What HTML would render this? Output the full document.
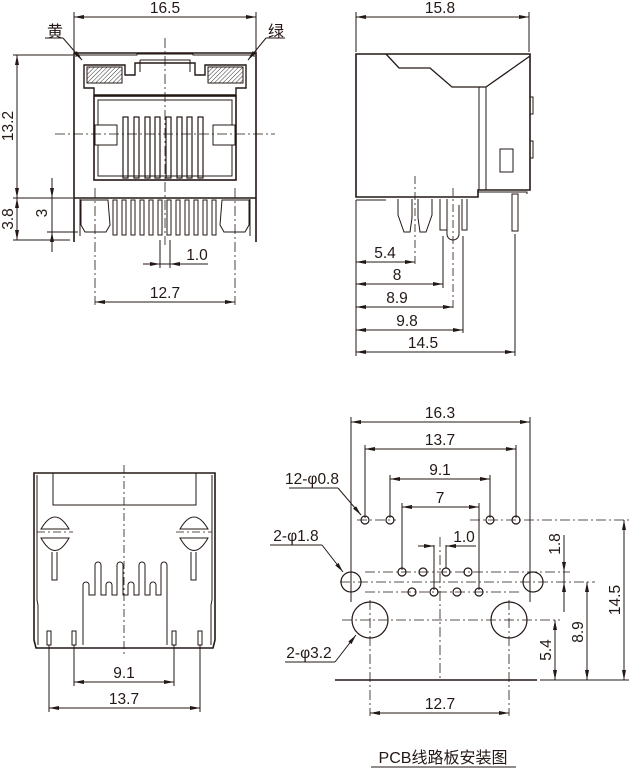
<!DOCTYPE html>
<html><head><meta charset="utf-8"><style>
html,body{margin:0;padding:0;background:#fff;}
svg{display:block;}
text{font-family:"Liberation Sans","Noto Sans CJK SC",sans-serif;fill:#231815;}
</style></head><body>
<svg width="629" height="769" viewBox="0 0 629 769" xmlns="http://www.w3.org/2000/svg">
<defs>
<pattern id="h" width="3" height="3" patternUnits="userSpaceOnUse" patternTransform="rotate(45)"><line x1="0" y1="0" x2="0" y2="3" stroke="#333" stroke-width="1"/></pattern>
<marker id="a" markerWidth="10" markerHeight="6" refX="10" refY="3" orient="auto-start-reverse" markerUnits="userSpaceOnUse"><path d="M0,1 L10,3 L0,5z" fill="#231815"/></marker>
</defs>
<g stroke="#231815" fill="none" stroke-width="1">
<!-- ===== Front view ===== -->
<line x1="74" y1="12" x2="74" y2="55"/><line x1="256" y1="12" x2="256" y2="55"/>
<line x1="74" y1="17" x2="256" y2="17" marker-start="url(#a)" marker-end="url(#a)"/>
<path d="M74,53 H256 V242 M74,53 V242" stroke-width="1.6"/>
<path d="M76,55 H137 V54 H193 V55 H254 L254,57 M76,55 L76,57"/>
<path d="M84,65 H125 V75 H135 V63 H195 V75 H205 V65 H246 V88 H236 V95 H94 V88 H84 Z" stroke-width="1.4"/>
<path d="M140,60 H190 V72 M140,60 V72"/>
<rect x="87" y="67" width="35" height="16" fill="url(#h)"/>
<rect x="208" y="67" width="35" height="16" fill="url(#h)"/>
<rect x="94" y="96" width="142" height="84" stroke-width="1.6"/>
<rect x="98" y="100" width="134" height="76"/>
<rect x="95" y="125" width="22" height="20" fill="#fff"/><rect x="213" y="125" width="22" height="20" fill="#fff"/>
<g stroke-width="1.2">
<rect x="123" y="117" width="5" height="61"/><rect x="134" y="117" width="5" height="61"/><rect x="145" y="117" width="5" height="61"/><rect x="155" y="117" width="5" height="61"/><rect x="166" y="117" width="5" height="61"/><rect x="177" y="117" width="5" height="61"/><rect x="187" y="117" width="5" height="61"/><rect x="198" y="117" width="5" height="61"/>
</g>
<line x1="74" y1="198" x2="256" y2="198" stroke-width="1.4"/>
<path d="M80,199 V236 M250,199 V236"/>
<path d="M81,200 H108 L110,225 L106,232 H85 L81,225 Z"/>
<path d="M222,200 H249 L249,225 L245,232 H224 L220,225 Z"/>
<g>
<rect x="113" y="200" width="4" height="35"/><rect x="122" y="200" width="4" height="35"/><rect x="131" y="200" width="4" height="35"/><rect x="140" y="200" width="4" height="35"/><rect x="149" y="200" width="4" height="35"/><rect x="158" y="200" width="4" height="35"/><rect x="167" y="200" width="4" height="35"/><rect x="176" y="200" width="4" height="35"/><rect x="185" y="200" width="4" height="35"/><rect x="194" y="200" width="4" height="35"/><rect x="203" y="200" width="4" height="35"/><rect x="212" y="200" width="4" height="35"/>
</g>
<g stroke-dasharray="10,3,2,3" stroke-width="0.8">
<line x1="165" y1="38" x2="165" y2="245"/><line x1="55" y1="134" x2="275" y2="134"/>
<line x1="95" y1="188" x2="95" y2="305"/><line x1="235" y1="188" x2="235" y2="305"/>
</g>
<line x1="13" y1="55" x2="73" y2="55"/><line x1="13" y1="198" x2="73" y2="198"/><line x1="13" y1="240" x2="70" y2="240"/>
<line x1="47" y1="232" x2="78" y2="232"/>
<line x1="17" y1="55" x2="17" y2="198" marker-start="url(#a)" marker-end="url(#a)"/>
<line x1="17" y1="198" x2="17" y2="240" marker-start="url(#a)" marker-end="url(#a)"/>
<line x1="52" y1="178" x2="52" y2="198" marker-end="url(#a)"/><line x1="52" y1="252" x2="52" y2="232" marker-end="url(#a)"/><line x1="52" y1="198" x2="52" y2="232"/>
<line x1="160" y1="240" x2="160" y2="268"/><line x1="170" y1="240" x2="170" y2="268"/>
<line x1="143" y1="264" x2="160" y2="264" marker-end="url(#a)"/><line x1="187" y1="264" x2="170" y2="264" marker-end="url(#a)"/><line x1="160" y1="264" x2="208" y2="264"/>
<line x1="95" y1="302" x2="235" y2="302" marker-start="url(#a)" marker-end="url(#a)"/>
<line x1="45" y1="38" x2="63" y2="38"/><line x1="63" y1="38" x2="82" y2="60" marker-end="url(#a)"/>
<line x1="285" y1="38" x2="266" y2="38"/><line x1="266" y1="38" x2="248" y2="60" marker-end="url(#a)"/>

<!-- ===== Side view ===== -->
<line x1="356" y1="12" x2="356" y2="52"/><line x1="529" y1="12" x2="529" y2="52"/>
<line x1="356" y1="17" x2="529" y2="17" marker-start="url(#a)" marker-end="url(#a)"/>
<path d="M356,54 H530 V190 H478 V197 H356 Z" stroke-width="1.6"/>
<path d="M386,54 L399,68 H430 L452,87 H486 L530,56" stroke-width="1.3"/>
<path d="M479,87 V190 M486,87 V190"/>
<path d="M530,97 H533 V114 H530 M530,141 H533 V158 H530"/>
<rect x="500" y="149" width="13" height="23"/>
<path d="M356,200 H386 M478,192 H527 V194"/>
<path d="M398,199 V215 L404,232 H410 L412,218 V199 M418,199 V218 L420,232 H426 L432,215 V199"/>
<path d="M440,199 V230 H447 V199 M462,199 V230 H467 V199"/>
<path d="M447,205 V234 A6,6 0 0 0 459,234 V205"/>
<rect x="512" y="194" width="6" height="37"/>
<g stroke-dasharray="8,3,2,3" stroke-width="0.8"><line x1="415" y1="176" x2="415" y2="265"/><line x1="453" y1="188" x2="453" y2="310"/></g>
<line x1="356" y1="200" x2="356" y2="356"/>
<line x1="443" y1="236" x2="443" y2="288"/><line x1="463" y1="236" x2="463" y2="333"/><line x1="515" y1="234" x2="515" y2="356"/>
<line x1="356" y1="262" x2="415" y2="262" marker-start="url(#a)" marker-end="url(#a)"/>
<line x1="356" y1="284" x2="443" y2="284" marker-start="url(#a)" marker-end="url(#a)"/>
<line x1="356" y1="307" x2="453" y2="307" marker-start="url(#a)" marker-end="url(#a)"/>
<line x1="356" y1="330" x2="463" y2="330" marker-start="url(#a)" marker-end="url(#a)"/>
<line x1="356" y1="352" x2="515" y2="352" marker-start="url(#a)" marker-end="url(#a)"/>

<!-- ===== Bottom-left view ===== -->
<path d="M34,473 H215 V640 L213,648 H36 L34,640 Z" stroke-width="1.6"/>
<path d="M37,475 V600 L38,605 V645 M212,475 V600 L211,605 V645"/>
<rect x="53" y="473" width="143" height="32"/>
<path d="M41,529 Q55,505 69,529 Z M41,538 Q55,563 69,538 Z M52,552 V580 H57 V552" />
<path d="M180,529 Q194,505 208,529 Z M180,538 Q194,563 208,538 Z M191,552 V580 H196 V552"/>
<path d="M83,645 V585 A3,3 0 0 1 89,585 V595 H95 V565 A3,3 0 0 1 101,565 V595 H106 V585 A3,3 0 0 1 112,585 V595 H117 V565 A3,3 0 0 1 123,565 V595 H128 V585 A3,3 0 0 1 134,585 V595 H139 V565 A3,3 0 0 1 145,565 V595 H150 V585 A3,3 0 0 1 156,585 V595 H161 V565 A3,3 0 0 1 167,565 V645"/>
<rect x="47" y="631" width="4" height="14"/><rect x="72" y="631" width="4" height="14"/><rect x="172" y="631" width="4" height="14"/><rect x="198" y="631" width="4" height="14"/>
<g stroke-dasharray="8,3,2,3" stroke-width="0.8"><line x1="124" y1="465" x2="124" y2="655"/><line x1="37" y1="532" x2="73" y2="532"/><line x1="176" y1="532" x2="212" y2="532"/></g>
<line x1="74" y1="645" x2="74" y2="686"/><line x1="174" y1="645" x2="174" y2="686"/>
<line x1="49" y1="645" x2="49" y2="712"/><line x1="200" y1="645" x2="200" y2="712"/>
<line x1="74" y1="682" x2="174" y2="682" marker-start="url(#a)" marker-end="url(#a)"/>
<line x1="49" y1="708" x2="200" y2="708" marker-start="url(#a)" marker-end="url(#a)"/>

<!-- ===== PCB view ===== -->
<line x1="351" y1="417" x2="351" y2="602"/><line x1="530" y1="417" x2="530" y2="602"/>
<line x1="351" y1="422" x2="530" y2="422" marker-start="url(#a)" marker-end="url(#a)"/>
<line x1="365" y1="445" x2="365" y2="518"/><line x1="516" y1="445" x2="516" y2="518"/>
<line x1="365" y1="449" x2="516" y2="449" marker-start="url(#a)" marker-end="url(#a)"/>
<line x1="390" y1="475" x2="390" y2="518"/><line x1="490" y1="475" x2="490" y2="518"/>
<line x1="390" y1="479" x2="490" y2="479" marker-start="url(#a)" marker-end="url(#a)"/>
<line x1="402" y1="503" x2="402" y2="570"/><line x1="479" y1="503" x2="479" y2="590"/>
<line x1="402" y1="507" x2="479" y2="507" marker-start="url(#a)" marker-end="url(#a)"/>
<g stroke-dasharray="10,3,2,3" stroke-width="0.8">
<line x1="357" y1="520" x2="396" y2="520"/><line x1="470" y1="520" x2="630" y2="520"/>
<line x1="365" y1="572" x2="570" y2="572"/><line x1="340" y1="582" x2="595" y2="582"/><line x1="365" y1="592" x2="520" y2="592"/>
<line x1="342" y1="620" x2="560" y2="620"/>
<line x1="440" y1="537" x2="440" y2="680"/>
<line x1="370" y1="600" x2="370" y2="716"/><line x1="509" y1="600" x2="509" y2="716"/>
</g>
<g stroke-width="1.2">
<circle cx="365" cy="520" r="4"/><circle cx="390" cy="520" r="4"/><circle cx="490" cy="520" r="4"/><circle cx="516" cy="520" r="4"/>
<circle cx="402" cy="572" r="4"/><circle cx="423" cy="572" r="4"/><circle cx="446" cy="572" r="4"/><circle cx="468" cy="572" r="4"/>
<circle cx="412" cy="592" r="4"/><circle cx="434" cy="592" r="4"/><circle cx="457" cy="592" r="4"/><circle cx="479" cy="592" r="4"/>
<circle cx="351" cy="582" r="10"/><circle cx="533" cy="582" r="10"/>
<circle cx="370" cy="620" r="18"/><circle cx="509" cy="620" r="18"/>
</g>
<line x1="434" y1="545" x2="434" y2="590"/><line x1="446" y1="545" x2="446" y2="568"/>
<line x1="418" y1="546" x2="434" y2="546" marker-end="url(#a)"/><line x1="462" y1="546" x2="446" y2="546" marker-end="url(#a)"/><line x1="446" y1="546" x2="476" y2="546"/>
<line x1="335" y1="680" x2="537" y2="680" stroke-width="1.4"/>
<line x1="370" y1="713" x2="509" y2="713" marker-start="url(#a)" marker-end="url(#a)"/>
<line x1="540" y1="680" x2="630" y2="680"/>
<line x1="624" y1="520" x2="624" y2="680" marker-start="url(#a)" marker-end="url(#a)"/>
<line x1="587" y1="582" x2="587" y2="680" marker-start="url(#a)" marker-end="url(#a)"/>
<line x1="555" y1="620" x2="555" y2="680" marker-start="url(#a)" marker-end="url(#a)"/>
<line x1="564" y1="535" x2="564" y2="572" marker-end="url(#a)"/><line x1="564" y1="612" x2="564" y2="582" marker-end="url(#a)"/><line x1="564" y1="572" x2="564" y2="582"/>
<line x1="289" y1="488" x2="338" y2="488"/><line x1="338" y1="488" x2="361" y2="515" marker-end="url(#a)"/>
<line x1="270" y1="545" x2="322" y2="545"/><line x1="322" y1="545" x2="343" y2="572" marker-end="url(#a)"/>
<line x1="285" y1="662" x2="335" y2="662"/><line x1="335" y1="662" x2="356" y2="635" marker-end="url(#a)"/>
<line x1="371" y1="767" x2="516" y2="767"/>
</g>
<g font-size="15.5">
<text x="165" y="13" text-anchor="middle">16.5</text>
<text x="55" y="37" text-anchor="middle" font-size="16">黄</text>
<text x="276" y="37" text-anchor="middle" font-size="16">绿</text>
<text transform="translate(13,126) rotate(-90)" text-anchor="middle">13.2</text>
<text transform="translate(13,219) rotate(-90)" text-anchor="middle">3.8</text>
<text transform="translate(47,213) rotate(-90)" text-anchor="middle">3</text>
<text x="197" y="260" text-anchor="middle">1.0</text>
<text x="165" y="298" text-anchor="middle">12.7</text>
<text x="440" y="13" text-anchor="middle">15.8</text>
<text x="385" y="258" text-anchor="middle">5.4</text>
<text x="397" y="280" text-anchor="middle">8</text>
<text x="397" y="303" text-anchor="middle">8.9</text>
<text x="407" y="326" text-anchor="middle">9.8</text>
<text x="423" y="348" text-anchor="middle">14.5</text>
<text x="124" y="678" text-anchor="middle">9.1</text>
<text x="124" y="704" text-anchor="middle">13.7</text>
<text x="440" y="418" text-anchor="middle">16.3</text>
<text x="440" y="445" text-anchor="middle">13.7</text>
<text x="440" y="475" text-anchor="middle">9.1</text>
<text x="440" y="503" text-anchor="middle">7</text>
<text x="464" y="542" text-anchor="middle">1.0</text>
<text x="312" y="484" text-anchor="middle">12-φ0.8</text>
<text x="296" y="541" text-anchor="middle">2-φ1.8</text>
<text x="309" y="658" text-anchor="middle">2-φ3.2</text>
<text x="440" y="709" text-anchor="middle">12.7</text>
<text transform="translate(560,544) rotate(-90)" text-anchor="middle">1.8</text>
<text transform="translate(620,600) rotate(-90)" text-anchor="middle">14.5</text>
<text transform="translate(583,632) rotate(-90)" text-anchor="middle">8.9</text>
<text transform="translate(551,650) rotate(-90)" text-anchor="middle">5.4</text>
<text x="443" y="763" text-anchor="middle" font-size="16">PCB线路板安装图</text>
</g>
</svg>
</body></html>
